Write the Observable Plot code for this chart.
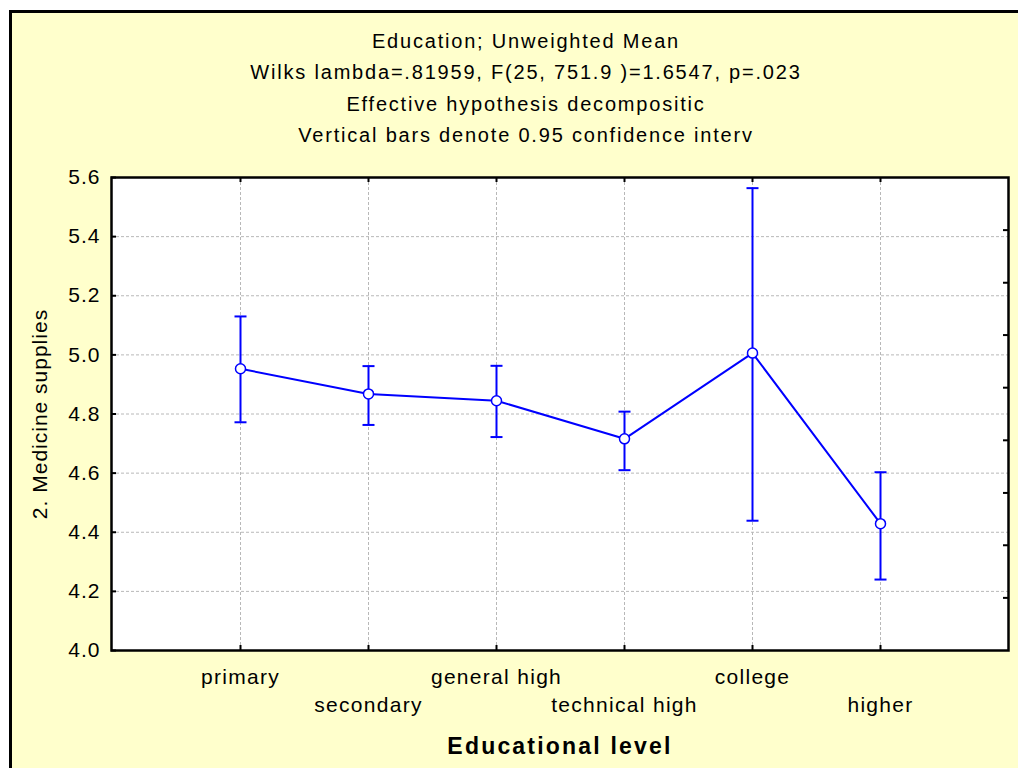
<!DOCTYPE html>
<html>
<head>
<meta charset="utf-8">
<script src="https://cdn.jsdelivr.net/npm/d3@7"></script>
<script src="https://cdn.jsdelivr.net/npm/@observablehq/plot@0.6"></script>
<style>
  html, body { margin: 0; padding: 0; background: #ffffff; }
  #wrap { position: relative; width: 1018px; height: 768px; overflow: hidden; }
  #panel { position: absolute; left: 9px; top: 10px; width: 1100px; height: 900px;
           background: #ffffcc; border: 3px solid #000; box-sizing: border-box; }
  #chart { position: absolute; left: 0; top: 0; }
  #chart svg { background: transparent; }
</style>
</head>
<body>
<div id="wrap"><div id="panel"></div><div id="chart"></div></div>
<script>
const categories = ["primary", "secondary", "general high", "technical high", "college", "higher"];
const means = [4.953, 4.868, 4.845, 4.716, 5.006, 4.429];
const lower = [4.772, 4.763, 4.722, 4.610, 4.439, 4.240];
const upper = [5.130, 4.962, 4.963, 4.808, 5.564, 4.603];
const yTicks = [4.0, 4.2, 4.4, 4.6, 4.8, 5.0, 5.2, 5.4, 5.6];
const rightTicks = [4.178, 4.356, 4.533, 4.711, 4.889, 5.067, 5.244, 5.422];
const titleLines = [
  "Education; Unweighted Mean",
  "Wilks lambda=.81959, F(25, 751.9 )=1.6547, p=.023",
  "Effective hypothesis decompositic",
  "Vertical bars denote 0.95 confidence interv"
];
const xTitle = "Educational level";
const yTitle = "2. Medicine supplies";

const data = categories.map((c, i) => ({cat: c, mean: means[i], lo: lower[i], hi: upper[i], i}));
const blue = "#0000ff";
const font = "'Liberation Sans', Arial, sans-serif";
const capSymbol = { draw(ctx) { ctx.moveTo(-6, 0); ctx.lineTo(6, 0); } };

const W = 1018, H = 768, mL = 111, mR = 10, mT = 177, mB = 118;
const fw = W - mL - mR, fh = H - mT - mB;

const chart = Plot.plot({
  width: W, height: H,
  marginLeft: mL, marginRight: mR, marginTop: mT, marginBottom: mB,
  style: { background: "transparent", fontFamily: font },
  x: { type: "point", domain: categories, padding: 1, axis: null },
  y: { domain: [4.0, 5.6], axis: null },
  marks: [
    Plot.frame({ fill: "white" }),
    Plot.gridY(yTicks, { stroke: "#b8b8b8", strokeOpacity: 1, strokeDasharray: "3,2" }),
    Plot.gridX(categories, { stroke: "#b8b8b8", strokeOpacity: 1, strokeDasharray: "3,2" }),
    Plot.tickY(yTicks, { insetRight: fw - 5, stroke: "black", strokeWidth: 2 }),
    Plot.tickY(rightTicks, { insetLeft: fw - 5, stroke: "black", strokeWidth: 2 }),
    Plot.tickX(categories, { insetBottom: fh - 5, stroke: "black", strokeWidth: 2 }),
    Plot.tickX(categories, { insetTop: fh - 5, stroke: "black", strokeWidth: 2 }),
    Plot.frame({ stroke: "black", strokeWidth: 2.5 }),
    Plot.ruleX(data, { x: "cat", y1: "lo", y2: "hi", stroke: blue, strokeWidth: 2 }),
    Plot.dot(data, { x: "cat", y: "lo", symbol: capSymbol, r: 6, stroke: blue, fill: "none", strokeWidth: 2 }),
    Plot.dot(data, { x: "cat", y: "hi", symbol: capSymbol, r: 6, stroke: blue, fill: "none", strokeWidth: 2 }),
    Plot.line(data, { x: "cat", y: "mean", stroke: blue, strokeWidth: 2 }),
    Plot.dot(data, { x: "cat", y: "mean", r: 5, fill: "white", stroke: blue, strokeWidth: 1.5 }),
    Plot.text(yTicks, { y: d => d, text: d => d.toFixed(1), frameAnchor: "left", textAnchor: "end", lineAnchor: "middle", dx: -11, fontSize: 21, fill: "black", ariaDescription: "ytick" }),
    Plot.text(categories.filter((c, i) => i % 2 === 0), { x: d => d, text: d => d, frameAnchor: "bottom", lineAnchor: "middle", dy: 27, fontSize: 21, fill: "black", ariaDescription: "xlab" }),
    Plot.text(categories.filter((c, i) => i % 2 === 1), { x: d => d, text: d => d, frameAnchor: "bottom", lineAnchor: "middle", dy: 55, fontSize: 21, fill: "black", ariaDescription: "xlab" }),
    Plot.text([xTitle], { text: d => d, frameAnchor: "bottom", lineAnchor: "middle", dy: 96, fontSize: 23, fontWeight: "bold", fill: "black", ariaDescription: "xtitle" }),
    Plot.text([yTitle], { text: d => d, frameAnchor: "left", textAnchor: "middle", lineAnchor: "middle", rotate: -90, dx: -71, fontSize: 21, fill: "black", ariaDescription: "ytitle" }),
    Plot.text(titleLines.slice(0, 1), { text: d => d, frameAnchor: "top", lineAnchor: "middle", dx: -34, dy: -136, fontSize: 20, fill: "black", ariaDescription: "title" }),
    Plot.text(titleLines.slice(1, 2), { text: d => d, frameAnchor: "top", lineAnchor: "middle", dx: -34, dy: -105, fontSize: 20, fill: "black", ariaDescription: "title" }),
    Plot.text(titleLines.slice(2, 3), { text: d => d, frameAnchor: "top", lineAnchor: "middle", dx: -34, dy: -73, fontSize: 20, fill: "black", ariaDescription: "title" }),
    Plot.text(titleLines.slice(3, 4), { text: d => d, frameAnchor: "top", lineAnchor: "middle", dx: -34, dy: -42, fontSize: 20, fill: "black", ariaDescription: "title" })
  ]
});
const spacing = { ytick: 1, xlab: 1.3, xtitle: 2.2, ytitle: 1, title: 1.8 };
for (const [k, v] of Object.entries(spacing)) {
  d3.select(chart).selectAll(`g[aria-description="${k}"] text`).style("letter-spacing", v + "px");
}
document.getElementById("chart").appendChild(chart);
</script>
</body>
</html>
